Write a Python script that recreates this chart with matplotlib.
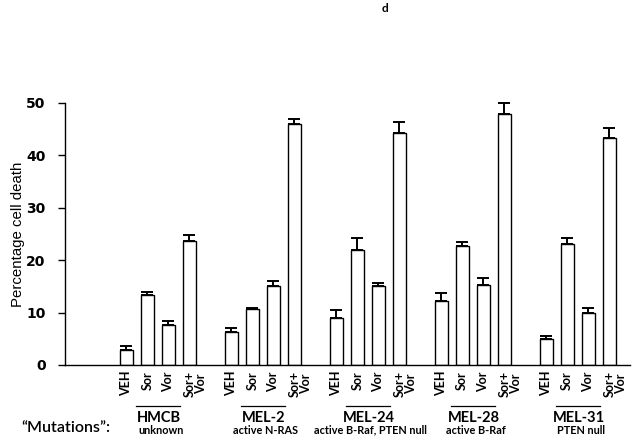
import numpy as np
import matplotlib
matplotlib.use("Agg")
import matplotlib.pyplot as plt
from matplotlib.transforms import blended_transform_factory

groups = ["HMCB", "MEL-2", "MEL-24", "MEL-28", "MEL-31"]
mutations = ["unknown", "active N-RAS", "active B-Raf, PTEN null", "active B-Raf", "PTEN null"]
treatments = ["VEH", "Sor", "Vor", "Sor+\nVor"]

hmcb = [2.9, 13.3, 7.6, 23.6]
mel2 = [6.3, 10.7, 15.0, 45.9]
mel24 = [9.0, 22.0, 15.0, 44.2]
mel28 = [12.2, 22.7, 15.3, 47.8]
mel31 = [4.9, 23.0, 9.85, 43.2]

hmcb_err = [0.7, 0.55, 0.85, 1.2]
mel2_err = [0.7, 0.15, 1.05, 0.9]
mel24_err = [1.5, 2.3, 0.6, 2.1]
mel28_err = [1.5, 0.8, 1.3, 2.1]
mel31_err = [0.7, 1.3, 0.95, 1.9]

values = [hmcb, mel2, mel24, mel28, mel31]
errors = [hmcb_err, mel2_err, mel24_err, mel28_err, mel31_err]

W, H = 634, 445
fig = plt.figure(figsize=(W / 100, H / 100), dpi=100)
ax = fig.add_axes([65 / W, 1 - 365 / H, 565 / W, (365 - 102.7) / H])

group_gap = 5
for g, (vals, errs) in enumerate(zip(values, errors)):
    xs = np.arange(len(vals)) + g * group_gap
    ax.bar(xs, vals, width=0.62, color="white", edgecolor="black", linewidth=1.0, zorder=2)
    ax.errorbar(xs, vals, yerr=[np.zeros(len(errs)), errs], fmt="none",
                ecolor="black", elinewidth=1.4, capsize=4.5, capthick=1.4,
                zorder=3, clip_on=False)

ax.set_xlim(-2.93, 24.0)
ax.set_ylim(0, 50)
ax.set_yticks([0, 10, 20, 30, 40, 50])
ax.set_xticks([])
for s in ["top", "right"]:
    ax.spines[s].set_visible(False)
ax.spines["left"].set_linewidth(1.0)
ax.spines["bottom"].set_linewidth(1.0)
ax.tick_params(axis="y", direction="out", length=5, width=1.0, pad=9)
for lab in ax.get_yticklabels():
    lab.set_fontfamily("DejaVu Sans")
    lab.set_fontweight("bold")
    lab.set_fontsize(10)

fig.text(18 / W, 1 - 234 / H, "Percentage cell death", rotation=90,
         ha="center", va="center", family="Liberation Sans", fontsize=10.8)

fig.text(385 / W, 1 - 8 / H, "d", ha="center", va="center", fontsize=8.5,
         fontweight="bold", family="Lato")

tr = blended_transform_factory(ax.transData, fig.transFigure)
for g in range(len(groups)):
    for j, t in enumerate(treatments):
        x = g * group_gap + j
        if "\n" in t:
            x += 0.3
        ax.text(x, 1 - 371 / H, t, rotation=90, ha="center", va="top",
                fontsize=9, fontweight="bold", family="Lato",
                transform=tr, linespacing=0.95)
    cx = g * group_gap + 1.5
    ax.plot([cx - 1.05, cx + 1.05], [1 - 406 / H, 1 - 406 / H], color="black",
            linewidth=0.9, transform=tr, clip_on=False)
    ax.text(cx + 0.05, 1 - 418 / H, groups[g], ha="center", va="center",
            fontsize=10.5, fontweight="bold", family="Lato", transform=tr)
    ax.text(cx + 0.15, 1 - 430 / H, mutations[g], ha="center", va="center",
            fontsize=7.8, fontweight="bold", family="Lato", transform=tr)

fig.text(66 / W, 1 - 428 / H, "\u201cMutations\u201d:", ha="center", va="center",
         fontsize=11.5, family="Lato", fontweight="semibold")

fig.savefig("out.png", dpi=100)
